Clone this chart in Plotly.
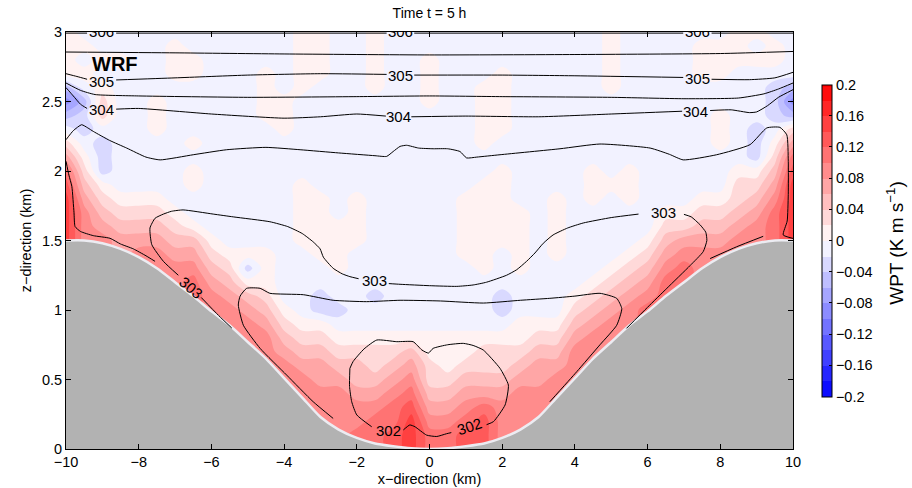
import numpy as np
import plotly.graph_objects as go

# ---------------- grid coordinates (km) ----------------
x_grid = [-10.0, -9.5, -9.0, -8.5, -8.0, -7.5, -7.0, -6.5, -6.0, -5.5, -5.0, -4.5, -4.0, -3.5, -3.0,
          -2.5, -2.0, -1.5, -1.0, -0.5, 0.0, 0.5, 1.0, 1.5, 2.0, 2.5, 3.0, 3.5, 4.0, 4.5, 5.0,
          5.5, 6.0, 6.5, 7.0, 7.5, 8.0, 8.5, 9.0, 9.5, 10.0]
z_grid = [0.0, 0.1, 0.2, 0.3, 0.4, 0.5, 0.6, 0.7, 0.8, 0.9, 1.0, 1.1, 1.2, 1.3, 1.4, 1.5,
          1.6, 1.7, 1.8, 1.9, 2.0, 2.1, 2.2, 2.3, 2.4, 2.5, 2.6, 2.7, 2.8, 2.9, 3.0]

# terrain height (km) at x_grid
terrain_h = [1.50, 1.50, 1.48, 1.44, 1.38, 1.30, 1.20, 1.10, 0.99, 0.89, 0.77, 0.65, 0.51, 0.37, 0.23,
             0.14, 0.08, 0.04, 0.02, 0.005, 0.0, 0.005, 0.02, 0.04, 0.08, 0.14, 0.23, 0.37, 0.51, 0.65, 0.77,
             0.89, 0.99, 1.10, 1.20, 1.30, 1.38, 1.44, 1.48, 1.50, 1.50]

# WPT read as band codes (K m/s), one string per height, from z = 3.0 (top) down to z = 0.0
wpt_code_values = {'d': -0.09, 'c': -0.07, 'b': -0.05, 'a': -0.03, '-': -0.01, '0': 0.01, '1': 0.03,
                   '2': 0.05, '3': 0.07, '4': 0.09, '5': 0.11, '6': 0.13, '7': 0.15}
wpt_rows_top_down = [
    "0---- ----- ---00 --0-- - ----- ----0 ----- -00--",  # 3.0
    "00--- -0--- ---00 --0-- - ----- ----0 ----0 00-0-",  # 2.9
    "0-00- -00-- ---00 --0-- 0 ----- ----0 ----0 0000-",  # 2.8
    "00--- -00-- -0-00 --0-- 0 ---0- ----0 ----0 0----",  # 2.7
    "b-0-- ----- -0-0- --0-- 0 --00- ----0 ----- ---ab",  # 2.6
    "db1-- 0---- -00-- ----- 0 --00- ----- ----- ---ad",  # 2.5
    "ba1-- 0---- -00-- ----- - --00- ----- ----- 0--ab",  # 2.4
    "-a--- 0---- --0-- ----- - --00- ----- ----- 0-a-1",  # 2.3
    "1-a-- --0-- ----- ----- - --0-- ----- ----- 0-a03",  # 2.2
    "30a-- ----- ----- ----- - ----- ----- ----- --a15",  # 2.1
    "51a-- --0-- ----- ----- - ---0- ---0- 0---- -0026",  # 2.0
    "620-- --0-- ---0- ----- - --00- ---00 0---- -1137",  # 1.9
    "73100 0---- ---00 -0--- - -000- -0-0- 0---0 01247",  # 1.8
    "74211 10--- ---00 -0--- - -0000 -0--- --001 12357",  # 1.7
    "74322 210-- ---00 00--- - -0000 -0--- --112 23457",  # 1.6
    "..433 3220- ---00 00--- - -0000 -0--- -0233 344..",  # 1.5
    "....4 43310 00--0 0---- - -00-0 -0--- 01344 4....",  # 1.4
    "..... .4421 a0--- 0---- - --0-0 ----0 1245. .....",  # 1.3
    "..... ..532 00--- ----- - ----- ---01 235.. .....",  # 1.2
    "..... ...43 21--a --a-- - ---a- --012 34... .....",  # 1.1
    "..... ...44 320-a a---- - ---a- --123 45... .....",  # 1.0
    "..... ....4 43100 ----- - ----0 00234 4.... .....",  # 0.9
    "..... ..... 44211 00000 0 00000 11344 ..... .....",  # 0.8
    "..... ..... .4322 11112 0 00111 2244. ..... .....",  # 0.7
    "..... ..... ..433 22123 1 01112 334.. ..... .....",  # 0.6
    "..... ..... ...43 32234 1 12223 34... ..... .....",  # 0.5
    "..... ..... ...44 43345 2 23334 44... ..... .....",  # 0.4
    "..... ..... ....4 44456 3 34544 4.... ..... .....",  # 0.3
    "..... ..... ..... 44557 4 45644 ..... ..... .....",  # 0.2
    "..... ..... ..... .5567 5 5664. ..... ..... .....",  # 0.1
    "..... ..... ..... ..... . ..... ..... ..... .....",  # 0.0
]

th306_x = [-10, -9.42, None, -8.62, -1.18, None, -0.42, 6.98, None, 7.76, 10]
th306_z = [2.992, 2.992, None, 2.992, 2.992, None, 2.992, 2.992, None, 2.992, 2.992]
th3055_x = [-10, -7, -4, 0, 4, 8, 10]
th3055_z = [2.856, 2.85, 2.842, 2.835, 2.838, 2.845, 2.86]
th305_x = [-10, -9.7, -9.42, None, -8.62, -7, -5, -3, -1.18, None, -0.42, 2, 4, 6.98, None, 7.76, 8.8, 9.5, 10]
th305_z = [2.70, 2.68, 2.66, None, 2.655, 2.67, 2.69, 2.70, 2.695, None, 2.69, 2.69, 2.685, 2.673, None, 2.66, 2.657, 2.67, 2.71]
th3045_x = [-10, -9.6, -9.2, -8, -5, -2, 0, 2, 5, 7, 8.5, 9.2, 9.6, 10]
th3045_z = [2.633, 2.58, 2.55, 2.54, 2.53, 2.535, 2.54, 2.535, 2.53, 2.52, 2.525, 2.555, 2.59, 2.633]
th304_x = [-10, -9.8, -9.6, -9.42, None, -8.62, -8, -6, -4, -3, -2, -1.2, None, -0.5, 1, 3, 5, 6.95,
           None, 7.72, 8.3, 8.8, 9.0, 9.3, 9.6, 10]
th304_z = [2.60, 2.54, 2.48, 2.45, None, 2.445, 2.45, 2.41, 2.38, 2.39, 2.41, 2.395, None, 2.39, 2.395, 2.39,
           2.41, 2.43, None, 2.435, 2.44, 2.42, 2.425, 2.47, 2.53, 2.585]
th3035_x = [-10, -9.8, -9.57, -9.4, -9.25, -8.8, -8.33, -7.8, -7.41, -6.5, -5.58, -4.5, -3.56, -2.5, -1.5,
            -1.18, -1.0, -0.81, -0.63, -0.3, 0.1, 0.5, 0.84, 1.02, 1.3, 1.94, 3.59, 4.69, 6.07, 6.6, 6.98,
            7.9, 8.82, 9.28, 9.64, 9.83, 9.87, 9.87, 9.84, 9.73, 10]
th3035_z = [2.225, 2.29, 2.333, 2.31, 2.285, 2.22, 2.165, 2.1, 2.08, 2.117, 2.153, 2.17, 2.153, 2.13, 2.11,
            2.105, 2.14, 2.177, 2.185, 2.165, 2.16, 2.16, 2.14, 2.094, 2.10, 2.117, 2.16, 2.194, 2.165, 2.12,
            2.08, 2.117, 2.19, 2.31, 2.314, 2.26, 2.07, 1.83, 1.64, 1.54, 1.515]
th3035b_x = [-10, -9.92, -9.84, -9.78, -9.75, -9.6, -9.25, -8.79, -8.5, -8.15, -7.8, -7.55]
th3035b_z = [2.07, 1.97, 1.89, 1.70, 1.60, 1.565, 1.535, 1.516, 1.475, 1.44, 1.39, 1.35]
th3035c_x = [7.72, 8.45, 9.18]
th3035c_z = [1.37, 1.455, 1.53]
th303_x = [-5.44, -5.8, -6.28, None, -6.91, -7.32, -7.64, -7.69, -7.55, -7.32, -7.1, -6.78, -5.95, -5.4,
           -4.39, -3.9, -3.5, -3.2, -3.01, -2.92, -2.65, -2.4, -2.19, -1.95, None, -1.12, -0.81, 0.0, 0.75,
           1.2, 1.57, 2.12, 2.4, 2.67, 2.9, 3.13, 3.4, 3.8, 4.23, 5.0, 5.75, None, 7.0, 7.2, 7.44, 7.6,
           7.63, 7.53, 7.17, 6.53, 6.0, 5.42]
th303_z = [0.87, 0.96, 1.09, None, 1.25, 1.35, 1.47, 1.59, 1.66, 1.69, 1.71, 1.72, 1.69, 1.67,
           1.635, 1.60, 1.55, 1.49, 1.44, 1.38, 1.30, 1.26, 1.24, 1.225, None, 1.19, 1.185, 1.175, 1.17,
           1.18, 1.20, 1.25, 1.29, 1.35, 1.41, 1.48, 1.54, 1.59, 1.626, 1.665, 1.69, None, 1.688, 1.67,
           1.614, 1.56, 1.50, 1.42, 1.32, 1.156, 1.02, 0.868]
th3025_x = [-2.65, -3.2, -3.93, -4.66, -5.12, -5.26, -5.21, -5.03, -4.66, -4.39, -3.47, -2.65, -1.73, -0.81,
            0.3, 1.48, 2.5, 3.31, 4.0, 4.69, 5.15, 5.29, 5.15, 4.69, 4.05, 3.31]
th3025_z = [0.22, 0.34, 0.532, 0.724, 0.89, 1.036, 1.10, 1.156, 1.156, 1.12, 1.11, 1.07, 1.06, 1.07,
            1.065, 1.05, 1.07, 1.084, 1.10, 1.12, 1.084, 1.01, 0.89, 0.75, 0.556, 0.34]
th302_x = [-2.19, -2.1, -1.8, -1.45, -0.9, -0.45, -0.21, -0.03, 0.1, 0.5, 0.93, 1.2, 1.48, 1.94, 2.17,
           2.08, 1.76, 1.57, None, 0.6, 0.47, 0.2, -0.08, -0.4, -0.54, -0.72, None, -1.59, -2.0, -2.14,
           -2.2, -2.19]
th302_z = [0.58, 0.63, 0.72, 0.784, 0.772, 0.772, 0.712, 0.69, 0.724, 0.75, 0.76, 0.745, 0.712, 0.58, 0.46,
           0.317, 0.197, 0.175, None, 0.118, 0.11, 0.09, 0.10, 0.16, 0.173, 0.137, None, 0.16, 0.245, 0.34,
           0.45, 0.58]

label_text = ['305', '305', '305', '304', '304', '304', '303', '303', '303', '302', '302']
label_x = [-9.02, -0.8, 7.37, -9.02, -0.86, 7.32, -6.56, -1.52, 6.45, -1.13, 1.09]
label_z = [2.645, 2.69, 2.667, 2.44, 2.39, 2.427, 1.165, 1.211, 1.70, 0.13, 0.16]
label_angle = [0, 0, 0, 0, 0, 0, 40, 0, 0, 0, -18]
top_label_text = ['306', '306', '306']
top_label_x = [-9.02, -0.8, 7.37]
top_label_z = [2.99, 2.99, 2.99]

x_ticks = [-10, -8, -6, -4, -2, 0, 2, 4, 6, 8, 10]
z_ticks = [0, 0.5, 1, 1.5, 2, 2.5, 3]
cb_ticks = [0.2, 0.16, 0.12, 0.08, 0.04, 0, -0.04, -0.08, -0.12, -0.16, -0.2]
cb_ticktext = ['0.2', '0.16', '0.12', '0.08', '0.04', '0', '\u22120.04', '\u22120.08', '\u22120.12',
               '\u22120.16', '\u22120.2']

# ---------------- build field ----------------
rows = [r.replace(' ', '') for r in wpt_rows_top_down]
nz, nx = len(rows), len(rows[0])
field = np.zeros((nz, nx))
for j in range(nx):
    last = None
    for r in range(nz):
        ch = rows[r][j]
        if ch != '.':
            last = wpt_code_values[ch]
        field[r, j] = last
field = field[::-1]  # ascending z

FONT = "Liberation Sans, Arial, Helvetica, sans-serif"
fig = go.Figure()

fig.add_trace(go.Contour(
    x=x_grid, y=z_grid, z=field, zmin=-0.2, zmax=0.2,
    colorscale=[[0, 'rgb(0,0,255)'], [0.5, 'rgb(255,255,255)'], [1, 'rgb(255,0,0)']],
    contours=dict(start=-0.2, end=0.2, size=0.02, coloring='fill', showlines=False),
    line=dict(width=0, smoothing=1.0),
    hoverinfo='skip',
    colorbar=dict(x=1.04, xanchor='left', xpad=0, ypad=0, y=0.5, yanchor='middle', len=0.748,
                  lenmode='fraction', thickness=10, thicknessmode='pixels',
                  outlinewidth=1, outlinecolor='black', ticks='inside', ticklen=3, tickcolor='black',
                  tickvals=cb_ticks, ticktext=cb_ticktext,
                  tickfont=dict(size=14.5, color='black', family=FONT)),
))

# terrain
fig.add_trace(go.Scatter(x=x_grid, y=terrain_h, mode='lines', fill='tozeroy',
                         fillcolor='rgb(178,178,178)',
                         line=dict(color='rgb(236,236,242)', width=2.5, shape='spline', smoothing=0.6),
                         hoverinfo='skip', showlegend=False))

for xs, zs in [(th306_x, th306_z), (th3055_x, th3055_z), (th305_x, th305_z), (th3045_x, th3045_z),
               (th304_x, th304_z), (th3035_x, th3035_z), (th3035b_x, th3035b_z), (th3035c_x, th3035c_z),
               (th303_x, th303_z), (th3025_x, th3025_z), (th302_x, th302_z)]:
    fig.add_trace(go.Scatter(x=xs, y=zs, mode='lines', line=dict(color='black', width=1,
                             shape='spline', smoothing=0.5), hoverinfo='skip', showlegend=False))

fig.add_trace(go.Scatter(x=top_label_x, y=top_label_z, text=top_label_text, mode='text',
                         textfont=dict(size=15, color='black', family=FONT), cliponaxis=True,
                         hoverinfo='skip', showlegend=False))

for t, lx, lz, ang in zip(label_text, label_x, label_z, label_angle):
    fig.add_annotation(x=lx, y=lz, text=t, showarrow=False, textangle=ang, borderpad=0,
                       font=dict(size=15, color='black', family=FONT))

fig.add_annotation(x=-8.64, y=2.772, text='<b>WRF</b>', showarrow=False, borderpad=0,
                   font=dict(size=20, color='black', family=FONT))

# colour-bar title
fig.add_annotation(x=1.14, y=0.494, xref='paper', yref='paper', text='WPT (K m s<sup>\u22121</sup>)',
                   textangle=-90, showarrow=False, xanchor='center', yanchor='middle', borderpad=0,
                   font=dict(size=19, color='black', family=FONT))

axis_common = dict(ticks='inside', ticklen=5, tickcolor='black', showline=True, linecolor='black',
                   linewidth=1, mirror='ticks', showgrid=False, zeroline=False, automargin=False,
                   tickfont=dict(size=14.5, color='black', family=FONT))
fig.update_layout(
    width=912, height=488,
    margin=dict(l=66, r=119, t=32, b=39, autoexpand=False),
    paper_bgcolor='white', plot_bgcolor='white',
    font=dict(family=FONT, color='black'),
    showlegend=False,
    title=dict(text='Time t = 5 h', x=0.5, xref='paper', xanchor='center', y=1 - 13 / 488,
               yref='container', yanchor='middle', font=dict(size=14, color='black', family=FONT)),
    xaxis=dict(range=[-10, 10], tickvals=x_ticks,
               title=dict(text='x\u2212direction (km)', standoff=4, font=dict(size=14.5)), **axis_common),
    yaxis=dict(range=[0, 3], tickvals=z_ticks,
               title=dict(text='z\u2212direction (km)', standoff=6, font=dict(size=14.5)), **axis_common),
)

fig.write_html("out.html", config={'displayModeBar': False},
               post_script="document.body.style.margin='0px';")
